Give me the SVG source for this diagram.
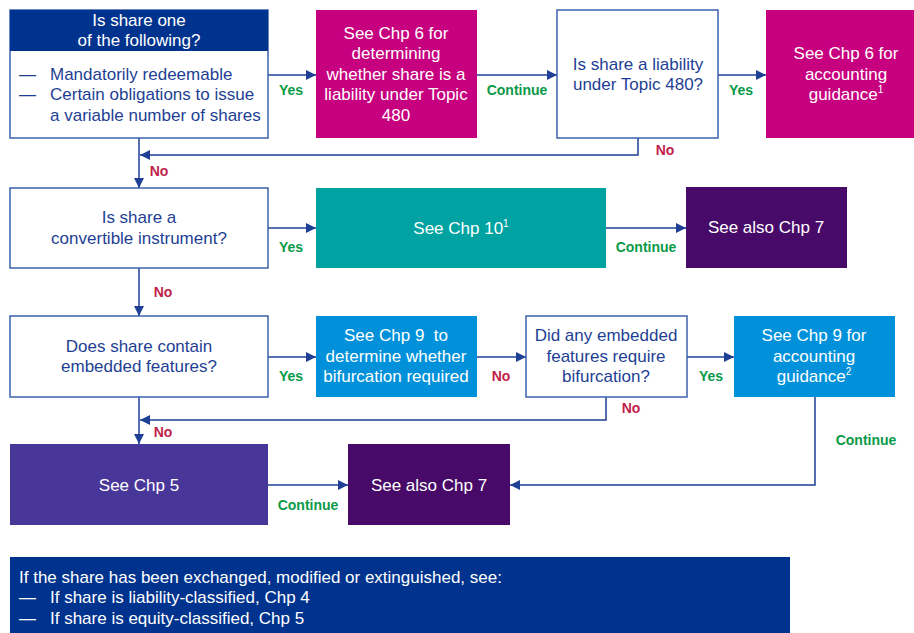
<svg xmlns="http://www.w3.org/2000/svg" width="914" height="633" viewBox="0 0 914 633">
<style>
text{font-family:"Liberation Sans",Arial,sans-serif;font-size:17px}
.w{fill:#fff}
.b{fill:#1e3f94}
.c{text-anchor:middle}
.q{fill:#fff;stroke:#3d62ae;stroke-width:1.5}
.lb{font-size:14px;font-weight:bold;text-anchor:middle}
.y{fill:#0a9a48}
.n{fill:#c01f4b}
.ln{fill:none;stroke:#1e3f94;stroke-width:1.5}
.sup{font-size:10px}
</style>
<defs>
<marker id="ah" viewBox="0 0 10 10" refX="10" refY="5" markerWidth="10" markerHeight="10" markerUnits="userSpaceOnUse" orient="auto">
<path d="M0,0 L10,5 L0,10 z" fill="#1e3f94"/>
</marker>
</defs>
<g id="connectors">
<path class="ln" d="M268,75 H316" marker-end="url(#ah)"/>
<path class="ln" d="M477,75 H557" marker-end="url(#ah)"/>
<path class="ln" d="M718,75 H766" marker-end="url(#ah)"/>
<path class="ln" d="M638,138 V155 H140" marker-end="url(#ah)"/>
<path class="ln" d="M139,138 V188" marker-end="url(#ah)"/>
<path class="ln" d="M268,228 H316" marker-end="url(#ah)"/>
<path class="ln" d="M606,228 H686" marker-end="url(#ah)"/>
<path class="ln" d="M139,268 V316" marker-end="url(#ah)"/>
<path class="ln" d="M268,357 H316" marker-end="url(#ah)"/>
<path class="ln" d="M477,357 H526" marker-end="url(#ah)"/>
<path class="ln" d="M687,357 H734" marker-end="url(#ah)"/>
<path class="ln" d="M606,397 V420 H140" marker-end="url(#ah)"/>
<path class="ln" d="M139,397 V444" marker-end="url(#ah)"/>
<path class="ln" d="M815,397 V485 H510" marker-end="url(#ah)"/>
<path class="ln" d="M268,485 H348" marker-end="url(#ah)"/>
<text class="lb y" x="291" y="95">Yes</text>
<text class="lb y" x="517" y="95">Continue</text>
<text class="lb y" x="741" y="95">Yes</text>
<text class="lb n" x="665" y="155">No</text>
<text class="lb n" x="159" y="176">No</text>
<text class="lb y" x="291" y="252">Yes</text>
<text class="lb y" x="646" y="252">Continue</text>
<text class="lb n" x="163" y="297">No</text>
<text class="lb y" x="291" y="381">Yes</text>
<text class="lb n" x="501" y="381">No</text>
<text class="lb y" x="711" y="381">Yes</text>
<text class="lb n" x="631" y="413">No</text>
<text class="lb n" x="163" y="437">No</text>
<text class="lb y" x="866" y="445">Continue</text>
<text class="lb y" x="308" y="510">Continue</text>
</g>
<g id="n1">
<rect class="q" x="10" y="10" width="258" height="128"/>
<rect x="10" y="10" width="258" height="41" fill="#00338d"/>
<text class="w c" x="139" y="26">Is share one</text>
<text class="w c" x="139" y="46">of the following?</text>
<text class="b" x="19" y="80">—</text><text class="b" x="50" y="80">Mandatorily redeemable</text>
<text class="b" x="19" y="100">—</text><text class="b" x="50" y="100">Certain obligations to issue</text>
<text class="b" x="50" y="121">a variable number of shares</text>
</g>
<g id="n2">
<rect x="316" y="10" width="161" height="128" fill="#c6007e"/>
<text class="w c" x="396" y="39">See Chp 6 for</text>
<text class="w c" x="396" y="59">determining</text>
<text class="w c" x="396" y="80">whether share is a</text>
<text class="w c" x="396" y="100">liability under Topic</text>
<text class="w c" x="396" y="121">480</text>
</g>
<g id="n3">
<rect class="q" x="557" y="10" width="161" height="128"/>
<text class="b c" x="638" y="70">Is share a liability</text>
<text class="b c" x="638" y="90">under Topic 480?</text>
</g>
<g id="n4">
<rect x="766" y="10" width="150" height="128" fill="#c6007e"/>
<text class="w c" x="846" y="59">See Chp 6 for</text>
<text class="w c" x="846" y="80">accounting</text>
<text class="w c" x="846" y="100">guidance<tspan class="sup" dy="-7">1</tspan></text>
</g>
<g id="n5">
<rect class="q" x="10" y="188" width="258" height="80"/>
<text class="b c" x="139" y="223">Is share a</text>
<text class="b c" x="139" y="244">convertible instrument?</text>
</g>
<g id="n6">
<rect x="316" y="188" width="290" height="80" fill="#00a3a1"/>
<text class="w c" x="461" y="234">See Chp 10<tspan class="sup" dy="-7">1</tspan></text>
</g>
<g id="n7">
<rect x="686" y="187" width="161" height="81" fill="#470a68"/>
<text class="w c" x="766" y="233">See also Chp 7</text>
</g>
<g id="n8">
<rect class="q" x="10" y="316" width="258" height="81"/>
<text class="b c" x="139" y="352">Does share contain</text>
<text class="b c" x="139" y="372">embedded features?</text>
</g>
<g id="n9">
<rect x="316" y="316" width="161" height="81" fill="#0091da"/>
<text class="w c" x="396" y="341">See Chp 9&#160; to</text>
<text class="w c" x="396" y="362">determine whether</text>
<text class="w c" x="396" y="382">bifurcation required</text>
</g>
<g id="n10">
<rect class="q" x="526" y="316" width="161" height="81"/>
<text class="b c" x="606" y="341">Did any embedded</text>
<text class="b c" x="606" y="362">features require</text>
<text class="b c" x="606" y="382">bifurcation?</text>
</g>
<g id="n11">
<rect x="734" y="316" width="161" height="81" fill="#0091da"/>
<text class="w c" x="814" y="341">See Chp 9 for</text>
<text class="w c" x="814" y="362">accounting</text>
<text class="w c" x="814" y="382">guidance<tspan class="sup" dy="-7">2</tspan></text>
</g>
<g id="n12">
<rect x="10" y="444" width="258" height="81" fill="#483698"/>
<text class="w c" x="139" y="491">See Chp 5</text>
</g>
<g id="n13">
<rect x="348" y="444" width="162" height="81" fill="#470a68"/>
<text class="w c" x="429" y="491">See also Chp 7</text>
</g>
<g id="n14">
<rect x="10" y="557" width="780" height="76" fill="#00338d"/>
<text class="w" x="19" y="583">If the share has been exchanged, modified or extinguished, see:</text>
<text class="w" x="19" y="603">—</text><text class="w" x="50" y="603">If share is liability-classified, Chp 4</text>
<text class="w" x="19" y="624">—</text><text class="w" x="50" y="624">If share is equity-classified, Chp 5</text>
</g>
</svg>
